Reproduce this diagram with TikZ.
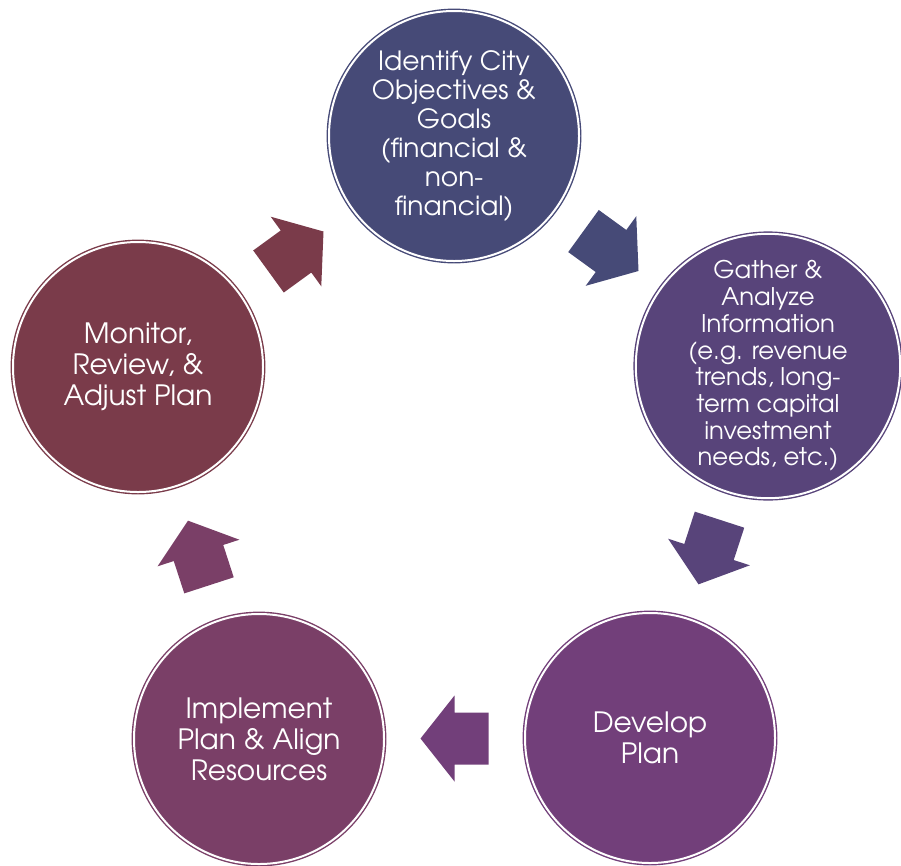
\documentclass[tikz,border=0pt]{standalone}
\usepackage{fontspec}
\setmainfont{TeX Gyre Adventor}
\usetikzlibrary{calc}
\definecolor{cTop}{RGB}{70,74,119}
\definecolor{cRight}{RGB}{88,68,122}
\definecolor{cDev}{RGB}{114,63,122}
\definecolor{cImp}{RGB}{122,63,103}
\definecolor{cMon}{RGB}{122,59,74}
\tikzset{
  stage/.style={circle, minimum size=250pt, inner sep=0pt, fill=#1, draw=#1,
    line width=1.4pt, double=white, double distance=2pt, text=white, align=center},
  blockarrow/.style={fill=#1}
}
\newcommand{\blockarrowpath}{(-34,26) -- (0,26) -- (0,43) -- (34,0) -- (0,-43) -- (0,-26) -- (-34,-26) -- cycle}
\begin{document}
\begin{tikzpicture}[x=1pt,y=-1pt]
\path[use as bounding box] (0,0) rectangle (901,865);
\node[stage=cTop, font=\fontsize{26.5}{29}\selectfont] (top) at (454,136)
  {Identify City\\Objectives \&\\Goals\\(financial \&\\non-\\financial)};
\node[stage=cRight, font=\fontsize{24.3}{26.7}\selectfont] (right) at (768,366)
  {Gather \&\\Analyze\\Information\\(e.g. revenue\\trends, long-\\term capital\\investment\\needs, etc.)};
\node[stage=cDev, font=\fontsize{28}{31}\selectfont] (dev) at (650,738)
  {Develop\\Plan};
\node[stage=cImp, font=\fontsize{28}{31}\selectfont] (imp) at (259,739)
  {Implement\\Plan \& Align\\Resources};
\node[stage=cMon, font=\fontsize{28}{31}\selectfont] (mon) at (138,367)
  {Monitor,\\Review, \&\\Adjust Plan};
\fill[blockarrow=cTop, shift={($(top)!0.5!(right)$)}, rotate=-36] \blockarrowpath;
\fill[blockarrow=cRight, shift={($(right)!0.5!(dev)$)}, rotate=-108] \blockarrowpath;
\fill[blockarrow=cDev, shift={($(dev)!0.5!(imp)$)}, rotate=180] \blockarrowpath;
\fill[blockarrow=cImp, shift={($(imp)!0.5!(mon)$)}, rotate=108] \blockarrowpath;
\fill[blockarrow=cMon, shift={($(mon)!0.5!(top)$)}, rotate=36] \blockarrowpath;
\end{tikzpicture}
\end{document}
